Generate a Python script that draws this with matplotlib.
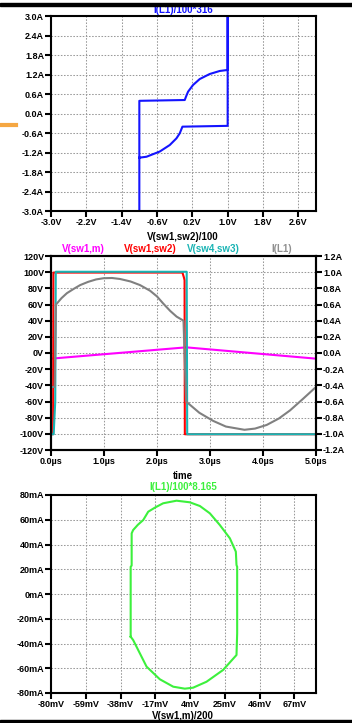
import matplotlib
matplotlib.use('Agg')
import matplotlib.pyplot as plt
from matplotlib.lines import Line2D
from matplotlib.patches import Rectangle

W, H = 352, 723

# ---------------- data ----------------
# Panel 1: I(L1)/100*316 vs V(sw1,sw2)/100
p1_x = [-1.0, -1.0, 0.028, 0.06, 0.103, 0.216, 0.367, 0.593, 0.819, 1.0, 1.0, 1.0,
        -0.024, -0.085, -0.16, -0.311, -0.537, -0.837, -1.0]
p1_y = [-3.0, 0.39, 0.415, 0.53, 0.67, 0.877, 1.06, 1.215, 1.308, 1.34, 3.0, -0.38,
        -0.405, -0.61, -0.765, -0.97, -1.17, -1.33, -1.36]
p1_xticks = [-3.0, -2.2, -1.4, -0.6, 0.2, 1.0, 1.8, 2.6]
p1_yticks = [-3.0, -2.4, -1.8, -1.2, -0.6, 0.0, 0.6, 1.2, 1.8, 2.4, 3.0]

# Panel 2: transient
mag_t = [0.0, 2.55, 5.0]
mag_v = [-7.0, 7.0, -7.0]
red_t = [0.0, 0.04, 0.045, 2.48, 2.51, 2.52, 2.525, 5.0]
red_v = [-100.5, -100.5, 99.5, 99.5, 93.0, 90.0, -100.5, -100.5]
cyan_t = [0.0, 0.05, 0.08, 0.09, 2.56, 2.57, 5.0]
cyan_v = [-100.5, -100.5, -60.0, 100.5, 100.5, -100.5, -100.5]
gray_t = [0.0, 0.07, 0.094, 0.2, 0.3, 0.42, 0.55, 0.7, 0.85, 0.99, 1.15, 1.30, 1.5, 1.68,
          1.87, 2.0, 2.12, 2.25, 2.37, 2.5, 2.55, 2.62, 2.8, 3.06, 3.3, 3.65, 3.85,
          4.07, 4.3, 4.51, 4.75, 5.0]
gray_i = [-0.42, -0.42, 0.60, 0.68, 0.74, 0.79, 0.84, 0.88, 0.91, 0.925, 0.928, 0.916,
          0.885, 0.84, 0.77, 0.70, 0.61, 0.52, 0.45, 0.40, -0.60, -0.64, -0.74, -0.84,
          -0.91, -0.95, -0.935, -0.89, -0.81, -0.71, -0.57, -0.42]
p2_xticks = [0.0, 1.0, 2.0, 3.0, 4.0, 5.0]
p2_lticks = [-120, -100, -80, -60, -40, -20, 0, 20, 40, 60, 80, 100, 120]
p2_rticks = [-1.2, -1.0, -0.8, -0.6, -0.4, -0.2, 0.0, 0.2, 0.4, 0.6, 0.8, 1.0, 1.2]

# Panel 3: I(L1)/100*8.165 vs V(sw1,m)/200
p3_x = [-31.9, -31.9, -31.3, -31.3, -30.4, -27.5, -24.3, -21.3, -17.0, -12.3, -4.2, 3.8,
        9.9, 15.9, 21.9, 28.0, 31.6, 32.0, 32.4, 32.4, 32.0, 23.9, 13.9, 5.8, 0.8,
        -6.2, -14.3, -22.3, -30.4, -31.9]
p3_y = [-34.5, 22.0, 23.0, 49.0, 51.7, 56.0, 59.8, 66.5, 70.0, 73.3, 75.4, 74.1,
        71.1, 65.2, 55.8, 45.0, 34.2, 23.4, 22.0, -31.8, -49.3, -61.4, -70.9, -75.7, -76.5,
        -74.9, -68.9, -58.7, -37.2, -34.5]
p3_xticks = [-80, -59, -38, -17, 4, 25, 46, 67]
p3_yticks = [-80, -60, -40, -20, 0, 20, 40, 60, 80]

# ---------------- style ----------------
plt.rcParams['font.family'] = ['Liberation Sans', 'DejaVu Sans']
plt.rcParams['font.weight'] = 'bold'
TICK_FS = 6.5
TITLE_FS = 7
GRID = dict(color='#9a9a9a', linestyle=(0, (1.5, 1.5)), linewidth=0.75)

fig = plt.figure(figsize=(W / 100, H / 100), dpi=100)
fig.patch.set_facecolor('white')


def rect(x0, y0, x1, y1):
    return [x0 / W, 1 - y1 / H, (x1 - x0) / W, (y1 - y0) / H]


def ftext(x, y, s, color='black', fs=TITLE_FS):
    fig.text(x / W, 1 - y / H, s, color=color, fontsize=fs, ha='center', va='center',
             fontweight='bold')


def style(ax):
    for sp in ax.spines.values():
        sp.set_linewidth(1.5)
        sp.set_color('black')
    ax.tick_params(direction='out', length=4, width=1.5, labelsize=TICK_FS, pad=1,
                   colors='black')
    ax.grid(True, **GRID)
    ax.set_axisbelow(True)


# ---- Panel 1 ----
ax1 = fig.add_axes(rect(51, 16, 316, 211))
ax1.plot(p1_x, p1_y, color='#1414ff', lw=1.5, solid_joinstyle='round')
ax1.set_xlim(-3.0, 3.0)
ax1.set_ylim(-3.0, 3.0)
ax1.set_xticks(p1_xticks)
ax1.set_xticklabels([f"{v:.1f}V" for v in p1_xticks])
ax1.set_yticks(p1_yticks)
ax1.set_yticklabels([f"{v:.1f}A" for v in p1_yticks])
style(ax1)
ftext(183, 10, "I(L1)/100*316", color='#1414ff')
ftext(183, 237, "V(sw1,sw2)/100")

# ---- Panel 2 ----
ax2 = fig.add_axes(rect(51, 256, 316, 450))
ax2.plot(mag_t, mag_v, color='#ff00ff', lw=1.5)
ax2.plot(red_t, red_v, color='#ff0000', lw=1.5)
ax2.plot(cyan_t, cyan_v, color='#19b4b4', lw=1.5)
ax2.set_xlim(0, 5.0)
ax2.set_ylim(-120, 120)
ax2.set_xticks(p2_xticks)
ax2.set_xticklabels([f"{v:.1f}\u00b5s" for v in p2_xticks])
ax2.set_yticks(p2_lticks)
ax2.set_yticklabels([f"{v}V" for v in p2_lticks])
style(ax2)
ax2r = ax2.twinx()
ax2r.plot(gray_t, gray_i, color='#808080', lw=1.5, solid_joinstyle='round')
ax2r.set_ylim(-1.2, 1.2)
ax2r.set_yticks(p2_rticks)
ax2r.set_yticklabels([f"{v:.1f}A" for v in p2_rticks])
for sp in ax2r.spines.values():
    sp.set_linewidth(1.5)
ax2r.tick_params(direction='out', length=4, width=1.5, labelsize=TICK_FS, pad=1)
ftext(83, 249, "V(sw1,m)", color='#ff00ff')
ftext(150, 249, "V(sw1,sw2)", color='#ff0000')
ftext(213, 249, "V(sw4,sw3)", color='#19b4b4')
ftext(282, 249, "I(L1)", color='#909090')
ftext(183, 476, "time")

# ---- Panel 3 ----
ax3 = fig.add_axes(rect(51, 495, 316, 693))
ax3.plot(p3_x, p3_y, color='#3cf03c', lw=1.5, solid_joinstyle='round')
ax3.set_xlim(-80, 80)
ax3.set_ylim(-80, 80)
ax3.set_xticks(p3_xticks)
ax3.set_xticklabels([f"{v}mV" for v in p3_xticks])
ax3.set_yticks(p3_yticks)
ax3.set_yticklabels([f"{v}mA" for v in p3_yticks])
style(ax3)
ftext(183, 487, "I(L1)/100*8.165", color='#3cf03c')
ftext(183, 716, "V(sw1,m)/200")

# ---- decorations ----
fig.add_artist(Rectangle((0, 1 - 6 / H), 1, 3 / H, transform=fig.transFigure,
                         color='black', zorder=10))
fig.add_artist(Rectangle((0, 0), 1, 3 / H, transform=fig.transFigure,
                         color='black', zorder=10))
fig.add_artist(Line2D([0, 16 / W], [1 - 125 / H] * 2, color='#f5a742', lw=3,
                      transform=fig.transFigure))

fig.savefig('out.png', dpi=100)
